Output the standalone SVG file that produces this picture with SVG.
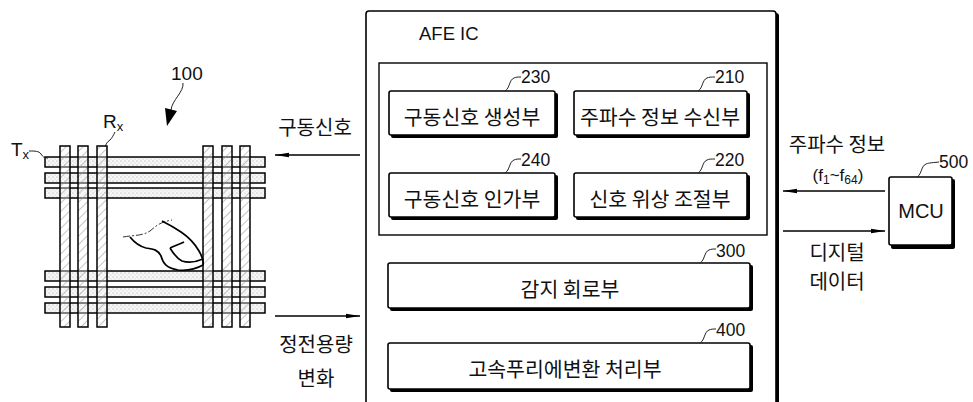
<svg xmlns="http://www.w3.org/2000/svg" width="973" height="402" viewBox="0 0 973 402">
  <defs>
    <pattern id="dots" width="4" height="4" patternUnits="userSpaceOnUse">
      <rect width="4" height="4" fill="#f6f6f6"/>
      <circle cx="1" cy="1" r="0.6" fill="#a0a0a0"/>
      <circle cx="3" cy="3" r="0.5" fill="#c0c0c0"/>
    </pattern>
    <pattern id="hatch" width="6" height="6" patternUnits="userSpaceOnUse" patternTransform="rotate(45)">
      <rect width="6" height="6" fill="#ffffff" fill-opacity="0.35"/>
      <line x1="0" y1="0" x2="0" y2="6" stroke="#8a8a8a" stroke-width="1"/>
    </pattern>
    <marker id="arrow" viewBox="0 0 14 6" refX="14" refY="3" markerWidth="14" markerHeight="6" markerUnits="userSpaceOnUse" orient="auto">
      <path d="M0,0.8 L14,3 L0,5.2 Z" fill="#000"/>
    </marker>
    <style>
      .kr { font-family: "Noto Sans CJK KR", "Liberation Sans", sans-serif; fill: #111; }
      .lat { font-family: "Liberation Sans", "Noto Sans CJK KR", sans-serif; fill: #111; }
      .box { fill: #fff; stroke: #000; stroke-width: 1.6; }
      .shadow { fill: #000; }
      .line { fill: none; stroke: #000; stroke-width: 1.3; }
      .thin { fill: none; stroke: #222; stroke-width: 1; }
      .tx { fill: url(#dots); stroke: #000; stroke-width: 1.5; }
      .rx { fill: url(#hatch); stroke: #000; stroke-width: 1.5; }
      .label { font-size: 20.5px; }
      .side { font-size: 20px; }
      .num { font-size: 17.5px; }
    </style>
  </defs>

  <!-- touch panel -->
  <g id="panel">
    <rect class="tx" x="45" y="157" width="220" height="10"/>
    <rect class="tx" x="45" y="173" width="220" height="10"/>
    <rect class="tx" x="45" y="188" width="220" height="10"/>
    <rect class="tx" x="45" y="271" width="220" height="10"/>
    <rect class="tx" x="45" y="287" width="220" height="10"/>
    <rect class="tx" x="45" y="303" width="220" height="10"/>
    <rect class="rx" x="60" y="146" width="10" height="181"/>
    <rect class="rx" x="78" y="146" width="10" height="181"/>
    <rect class="rx" x="97" y="146" width="10" height="181"/>
    <rect class="rx" x="203" y="146" width="10" height="181"/>
    <rect class="rx" x="222" y="146" width="10" height="181"/>
    <rect class="rx" x="240" y="146" width="10" height="181"/>
    <!-- finger -->
    <path d="M123,237 C135,235 142,236 150,231 C156,226 160,222 172,220" fill="none" stroke="#333" stroke-width="1" stroke-dasharray="7,2,2,2"/>
    <path d="M130,237 C134,242 138,246 146,248 C154,249 158,250 161,256 C163,263 166,268 178,270 C188,271 196,269 203,265 C204,260 202,256 199,251 C195,244 187,236 181,232 C175,228 168,224 162,221" fill="none" stroke="#000" stroke-width="1.7"/>
    <path d="M170,248 C174,246 180,244 184,242 M170,248 C173,253 176,258 182,261 C188,263 196,262 203,259" fill="none" stroke="#000" stroke-width="1.7"/>
    <!-- reference labels -->
    <text class="lat" x="171" y="80" font-size="19">100</text>
    <path class="thin" d="M183,83 C184,92 172,100 171,110"/>
    <path d="M165,108 L177,111 L167,126 Z" fill="#000"/>
    <text class="lat" x="11" y="156" font-size="19">T<tspan font-size="13" dy="3">x</tspan></text>
    <path class="thin" d="M29,151 C35,151 39,151 41,154 C43,157 44,158 48,158"/>
    <text class="lat" x="103" y="128" font-size="19">R<tspan font-size="13" dy="3">x</tspan></text>
    <path class="thin" d="M115,132 C113,136 112,138 110,140 C107,142 106,144 105,147"/>
  </g>

  <!-- AFE IC block -->
  <g id="afe">
    <rect class="shadow" x="369" y="13" width="410" height="400" rx="3"/>
    <rect class="box" x="366" y="11" width="410" height="400" rx="3"/>
    <text class="lat" x="419" y="40" font-size="18.5">AFE IC</text>
  </g>
  <g id="inner">
    <rect x="379" y="63" width="388" height="172" fill="#fff" stroke="#000" stroke-width="1.4"/>
  </g>

  <g id="n230">
    <rect class="shadow" x="391" y="93" width="167" height="45" rx="2"/>
    <rect class="box" x="389" y="91" width="166" height="44" rx="2"/>
    <text class="kr label" x="472" y="125" text-anchor="middle">구동신호 생성부</text>
    <path class="thin" d="M505,91 C510,88 509,80 514,78 C516,77 518,77 521,77"/>
    <text class="lat num" x="521" y="83">230</text>
  </g>
  <g id="n210">
    <rect class="shadow" x="576" y="93" width="174" height="45" rx="2"/>
    <rect class="box" x="574" y="91" width="173" height="44" rx="2"/>
    <text class="kr label" x="660" y="125" text-anchor="middle">주파수 정보 수신부</text>
    <path class="thin" d="M698,91 C703,88 702,80 707,78 C709,77 711,77 715,77"/>
    <text class="lat num" x="715" y="83">210</text>
  </g>
  <g id="n240">
    <rect class="shadow" x="391" y="175" width="167" height="45" rx="2"/>
    <rect class="box" x="389" y="173" width="166" height="44" rx="2"/>
    <text class="kr label" x="472" y="207" text-anchor="middle">구동신호 인가부</text>
    <path class="thin" d="M505,173 C510,170 509,162 514,160 C516,159 518,159 521,159"/>
    <text class="lat num" x="521" y="166">240</text>
  </g>
  <g id="n220">
    <rect class="shadow" x="576" y="175" width="174" height="45" rx="2"/>
    <rect class="box" x="574" y="173" width="173" height="44" rx="2"/>
    <text class="kr label" x="660" y="207" text-anchor="middle">신호 위상 조절부</text>
    <path class="thin" d="M698,173 C703,170 702,162 707,160 C709,159 711,159 715,159"/>
    <text class="lat num" x="715" y="166">220</text>
  </g>
  <g id="n300">
    <rect class="shadow" x="390" y="265" width="363" height="46" rx="2"/>
    <rect class="box" x="388" y="263" width="362" height="45" rx="2"/>
    <text class="kr label" x="570" y="297" text-anchor="middle">감지 회로부</text>
    <path class="thin" d="M700,263 C705,260 704,252 709,250 C711,249 713,249 716,249"/>
    <text class="lat num" x="716" y="257">300</text>
  </g>
  <g id="n400">
    <rect class="shadow" x="390" y="345" width="363" height="47" rx="2"/>
    <rect class="box" x="388" y="343" width="362" height="46" rx="2"/>
    <text class="kr label" x="565" y="377" text-anchor="middle">고속푸리에변환 처리부</text>
    <path class="thin" d="M700,343 C705,340 704,332 709,330 C711,329 713,329 716,329"/>
    <text class="lat num" x="716" y="336">400</text>
  </g>

  <g id="n500">
    <rect class="shadow" x="891" y="179" width="64" height="70" rx="2"/>
    <rect class="box" x="889" y="177" width="63" height="68" rx="2"/>
    <text class="lat" x="921" y="218" font-size="20" text-anchor="middle">MCU</text>
    <path class="thin" d="M917,177 C922,174 921,166 926,164 C928,163 930,163 939,162"/>
    <text class="lat num" x="939" y="168">500</text>
  </g>

  <!-- connectors -->
  <g id="connectors">
    <line class="line" x1="360" y1="155" x2="275" y2="155" marker-end="url(#arrow)"/>
    <line class="line" x1="275" y1="316" x2="360" y2="316" marker-end="url(#arrow)"/>
    <line class="line" x1="885" y1="191" x2="783" y2="191" marker-end="url(#arrow)"/>
    <line class="line" x1="783" y1="231" x2="885" y2="231" marker-end="url(#arrow)"/>
    <text class="kr side" x="315" y="135" text-anchor="middle">구동신호</text>
    <text class="kr side" x="316" y="352" text-anchor="middle">정전용량</text>
    <text class="kr side" x="316" y="386" text-anchor="middle">변화</text>
    <text class="kr side" x="837" y="152" text-anchor="middle">주파수 정보</text>
    <text class="lat" x="838" y="181" font-size="17" text-anchor="middle">(f<tspan font-size="12" dy="3">1</tspan><tspan dy="-3">~f</tspan><tspan font-size="12" dy="3">64</tspan><tspan dy="-3">)</tspan></text>
    <text class="kr side" x="837" y="260" text-anchor="middle">디지털</text>
    <text class="kr side" x="837" y="289" text-anchor="middle">데이터</text>
  </g>
</svg>
